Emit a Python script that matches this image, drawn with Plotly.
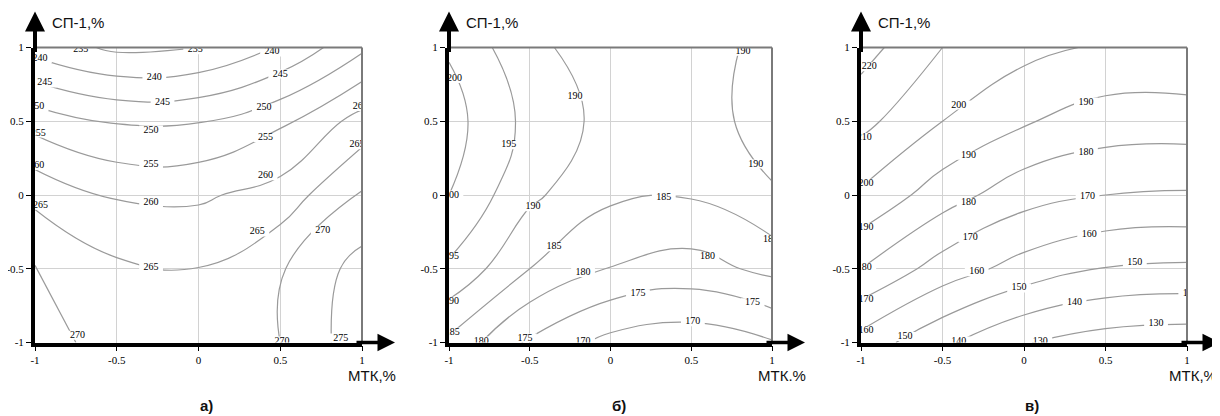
import plotly.graph_objects as go

# ---- data ----
mtk = [-1, -0.5, 0, 0.5, 1]          # x: МТК, %
sp1 = [-1, -0.5, 0, 0.5, 1]          # y: СП-1, %

# rows = sp1 (from -1 to 1), columns = mtk (from -1 to 1)
z_a = [
    [271.5, 268.5, 268.0, 270.0, 278.0],
    [270.3, 266.0, 265.1, 269.5, 277.0],
    [263.7, 259.4, 259.2, 262.0, 270.5],
    [253.0, 249.5, 249.7, 254.0, 262.0],
    [238.0, 234.0, 235.0, 240.5, 249.0],
]
z_b = [
    [184.0, 174.0, 168.5, 167.0, 169.6],
    [194.2, 185.0, 179.8, 178.0, 181.3],
    [200.0, 191.0, 185.9, 185.4, 189.7],
    [202.0, 193.5, 188.3, 188.5, 191.3],
    [199.5, 191.1, 187.5, 188.5, 191.0],
]
z_c = [
    [156.0, 142.0, 130.5, 125.5, 124.0],
    [180.0, 165.5, 156.0, 149.5, 148.2],
    [198.5, 184.7, 174.0, 170.0, 169.0],
    [213.0, 200.0, 191.0, 185.5, 185.0],
    [224.0, 210.0, 203.0, 198.5, 199.0],
]
levels = [(235, 275, 5), (170, 200, 5), (130, 220, 10)]

# contour labels: value, x, y (as placed in the picture)
lab_a_val = [235, 235, 240, 240, 240, 245, 245, 245, 250, 250, 250, 255, 255, 255,
             260, 260, 260, 260, 265, 265, 265, 265, 270, 270, 270, 275]
lab_a_x = [-0.72, -0.02, -0.97, -0.27, 0.45, -0.94, -0.22, 0.5, -0.99, -0.29, 0.4, -0.98, -0.29, 0.41,
           -0.99, -0.29, 0.41, 0.99, -0.966, -0.29, 0.36, 0.97, -0.74, 0.76, 0.51, 0.87]
lab_a_y = [0.985, 0.985, 0.925, 0.8, 0.97, 0.76, 0.63, 0.82, 0.6, 0.44, 0.59, 0.42, 0.21, 0.39,
           0.2, -0.05, 0.13, 0.6, -0.07, -0.49, -0.25, 0.34, -0.95, -0.24, -0.99, -0.97]

lab_b_val = [200, 200, 195, 195, 190, 190, 190, 190, 190, 185, 185, 185, 185,
             180, 180, 180, 175, 175, 175, 170, 170]
lab_b_x = [-0.966, -0.985, -0.63, -0.985, -0.22, -0.48, -0.985, 0.82, 0.9, -0.98, -0.35, 0.33, 0.99,
           -0.8, -0.17, 0.6, -0.53, 0.17, 0.88, -0.17, 0.51]
lab_b_y = [0.79, 0.0, 0.34, -0.42, 0.67, -0.08, -0.72, 0.975, 0.21, -0.93, -0.35, -0.02, -0.3,
           -0.99, -0.525, -0.42, -0.97, -0.67, -0.73, -0.99, -0.86]

lab_c_val = [220, 210, 200, 200, 190, 190, 190, 180, 180, 180, 170, 170, 170,
             160, 160, 160, 150, 150, 150, 140, 140, 140, 130, 130]
lab_c_x = [-0.95, -0.98, -0.97, -0.4, -0.97, -0.34, 0.38, -0.98, -0.34, 0.38, -0.97, -0.33, 0.39,
           -0.97, -0.29, 0.4, -0.73, -0.03, 0.68, -0.4, 0.31, 1.02, 0.1, 0.81]
lab_c_y = [0.87, 0.39, 0.08, 0.61, -0.22, 0.27, 0.63, -0.49, -0.05, 0.29, -0.71, -0.29, -0.01,
           -0.92, -0.52, -0.27, -0.96, -0.63, -0.46, -0.99, -0.73, -0.67, -0.99, -0.87]

tick_vals = [-1, -0.5, 0, 0.5, 1]
tick_text = ["-1", "-0.5", "0", "0.5", "1"]
y_title = "СП-1,%"
x_titles = ["МТК,%", "МТК.%", "МТК,%"]
captions = ["а)", "б)", "в)"]

# ---- layout geometry (pixels in the 1220x416 window; page body has an 8px margin) ----
OFF = 8
W, H = 1220 - OFF, 416 - OFF
panels_px = [(35, 362), (449, 772), (861, 1187)]
top_px, bot_px = 47.5, 342.5

def px_x(p):
    return (p - OFF) / W

def px_y(p):
    return (H - (p - OFF)) / H

fig = go.Figure()
zs = [z_a, z_b, z_c]
labs = [(lab_a_val, lab_a_x, lab_a_y), (lab_b_val, lab_b_x, lab_b_y), (lab_c_val, lab_c_x, lab_c_y)]
serif = "Liberation Serif"
sans = "Liberation Sans"

for i, z in enumerate(zs):
    sfx = "" if i == 0 else str(i + 1)
    s, e, st = levels[i]
    fig.add_trace(go.Contour(
        x=mtk, y=sp1, z=z,
        xaxis="x" + sfx, yaxis="y" + sfx,
        contours=dict(coloring="lines", start=s, end=e, size=st, showlabels=False),
        line=dict(width=1.2, smoothing=1.3),
        colorscale=[[0, "#9a9a9a"], [1, "#9a9a9a"]],
        showscale=False, hoverinfo="skip",
    ))
for i, (vals, lx, ly) in enumerate(labs):
    sfx = "" if i == 0 else str(i + 1)
    fig.add_trace(go.Scatter(
        x=lx, y=ly, text=[str(v) for v in vals], mode="markers+text",
        xaxis="x" + sfx, yaxis="y" + sfx,
        textposition="middle center",
        textfont=dict(family=serif, size=10, color="black"),
        marker=dict(symbol="line-ew", size=17, color="white",
                    line=dict(width=9, color="white")),
        hoverinfo="skip", cliponaxis=True,
    ))

layout = dict(
    width=W, height=H,
    margin=dict(l=0, r=0, t=0, b=0, autoexpand=False),
    paper_bgcolor="white", plot_bgcolor="white",
    showlegend=False,
)
annotations = []
shapes = []
for i, (x0, x1) in enumerate(panels_px):
    sfx = "" if i == 0 else str(i + 1)
    ax_common = dict(
        range=[-1, 1], tickvals=tick_vals, ticktext=tick_text,
        showgrid=True, gridcolor="#d2d2d2", gridwidth=1, zeroline=False,
        ticks="outside", ticklen=5, tickwidth=1, tickcolor="black",
        tickfont=dict(family=serif, size=11, color="black"),
        showline=True, linecolor="black", automargin=False,
    )
    layout["xaxis" + sfx] = dict(ax_common, domain=[px_x(x0), px_x(x1)],
                                 anchor="y" + sfx, linewidth=3.5)
    layout["yaxis" + sfx] = dict(ax_common, domain=[px_y(bot_px), px_y(top_px)],
                                 anchor="x" + sfx, linewidth=4)
    xd, yd = "x" + sfx + " domain", "y" + sfx + " domain"
    shapes.append(dict(type="line", xref=xd, yref=yd, x0=0, x1=1, y0=1, y1=1,
                       line=dict(color="#7a7a7a", width=2)))
    shapes.append(dict(type="line", xref=xd, yref=yd, x0=1, x1=1, y0=0, y1=1,
                       line=dict(color="#7a7a7a", width=2)))
    annotations.append(dict(xref=xd, yref=yd, x=0, y=1 + 36 / 295, ax=0, ay=42,
                            text="", showarrow=True, arrowhead=2, arrowsize=1,
                            arrowwidth=4, arrowcolor="black", standoff=0))
    annotations.append(dict(xref=xd, yref=yd, x=1 + 33 / (x1 - x0), y=0, ax=-40, ay=0,
                            text="", showarrow=True, arrowhead=2, arrowsize=1,
                            arrowwidth=3.5, arrowcolor="black", standoff=0))
    annotations.append(dict(xref="paper", yref="paper", x=px_x(x0 + 15), y=px_y(23),
                            xanchor="left", yanchor="middle", text=y_title,
                            showarrow=False, font=dict(family=sans, size=15, color="#111")))
    xr = min(x1 + 36, 1219)
    annotations.append(dict(xref="paper", yref="paper", x=px_x(xr), y=px_y(375),
                            xanchor="right", yanchor="middle", text=x_titles[i],
                            showarrow=False, font=dict(family=sans, size=15, color="#111")))
    annotations.append(dict(xref="paper", yref="paper", x=px_x((x0 + x1) / 2 + 8), y=px_y(405),
                            xanchor="center", yanchor="middle", text="<b>" + captions[i] + "</b>",
                            showarrow=False, font=dict(family=sans, size=15, color="#111")))

layout["annotations"] = annotations
layout["shapes"] = shapes
fig.update_layout(**layout)
fig.write_html("out.html")
